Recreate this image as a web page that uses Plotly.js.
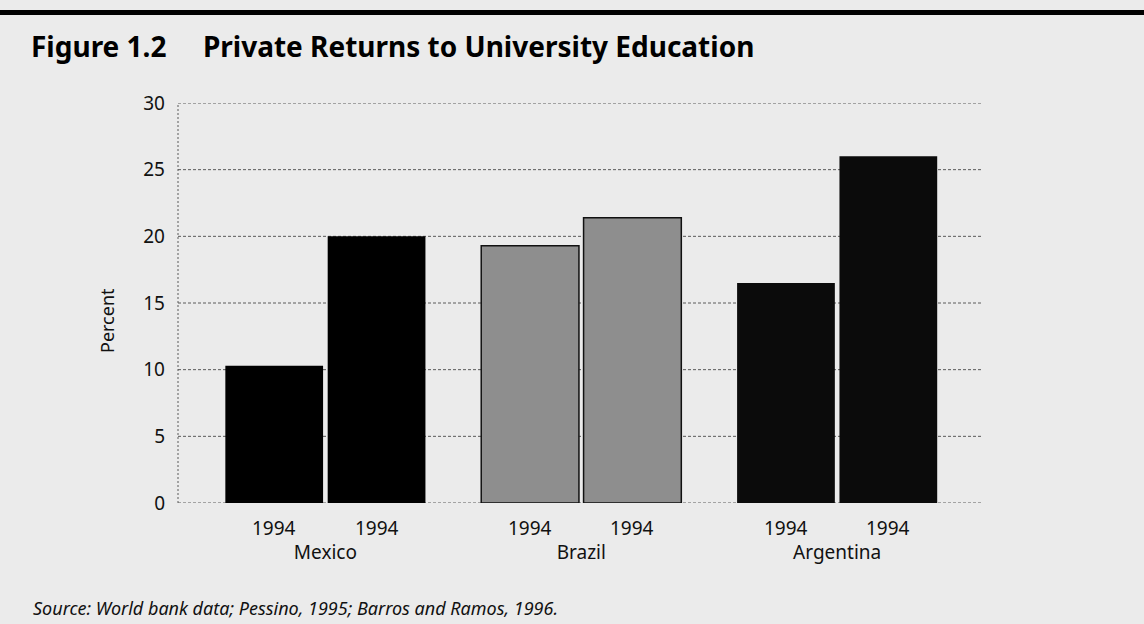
<!DOCTYPE html>
<html>
<head>
<meta charset="utf-8">
<script src="https://cdn.plot.ly/plotly-3.0.1.min.js"></script>
<style>
html,body{margin:0;padding:0;background:#ebebeb;}
#chart{width:1144px;height:624px;}
</style>
</head>
<body>
<div id="chart"></div>
<script>
const countries = ['Mexico', 'Brazil', 'Argentina'];
const yearsFirst = ['1994', '1994', '1994'];
const yearsSecond = ['1994', '1994', '1994'];
const returnsFirst = [10.3, 19.3, 16.5];
const returnsSecond = [20.0, 21.4, 26.0];
const barColors = ['#000000', '#8e8e8e', '#0b0b0b'];
const yTicks = [0, 5, 10, 15, 20, 25, 30];

const W = 1144, H = 624;
const M = {l: 178, r: 161, t: 103, b: 121};
const PW = W - M.l - M.r, PH = H - M.t - M.b;
const px = x => (x - M.l) / PW;
const py = y => (H - M.b - y) / PH;

const font = 'Noto Sans, DejaVu Sans, sans-serif';
const BARGAP = 0.2;
const slot = (1 - BARGAP) / 2;
const gridStyle = {color: '#5a5a5a', width: 1, dash: '3px,2px'};

const trace1 = {
  type: 'bar', x: countries, y: returnsFirst, name: 'First',
  marker: {color: barColors, line: {color: ['#000', '#111', '#000'], width: [0, 1.5, 0]}},
  hoverinfo: 'y'
};
const trace2 = {
  type: 'bar', x: countries, y: returnsSecond, name: 'Second',
  marker: {color: barColors, line: {color: ['#000', '#111', '#000'], width: [0, 1.5, 0]}},
  hoverinfo: 'y'
};

const annotations = [];
countries.forEach((c, i) => {
  annotations.push({xref: 'x', yref: 'paper', x: i - slot / 2, y: py(528), text: yearsFirst[i],
    showarrow: false, yanchor: 'middle', xanchor: 'center', font: {family: font, size: 19, color: '#111'}});
  annotations.push({xref: 'x', yref: 'paper', x: i + slot / 2, y: py(528), text: yearsSecond[i],
    showarrow: false, yanchor: 'middle', xanchor: 'center', font: {family: font, size: 19, color: '#111'}});
});
annotations.push({xref: 'paper', yref: 'paper', x: px(107), y: py(321), text: 'Percent', textangle: -90,
  showarrow: false, xanchor: 'center', yanchor: 'middle', font: {family: font, size: 18, color: '#111'}});
annotations.push({xref: 'paper', yref: 'paper', x: px(31), y: py(608), text: '<i>Source: World bank data; Pessino, 1995; Barros and Ramos, 1996.</i>',
  showarrow: false, xanchor: 'left', yanchor: 'middle', font: {family: font, size: 18, color: '#111'}});

const yGrid = yTicks.map(v => ({type: 'line', xref: 'paper', yref: 'y', x0: 0, x1: 1, y0: v, y1: v,
  line: gridStyle, layer: 'below'}));

const layout = {
  width: W, height: H,
  margin: M,
  paper_bgcolor: '#ebebeb', plot_bgcolor: 'rgba(0,0,0,0)',
  showlegend: false,
  barmode: 'group', bargap: BARGAP, bargroupgap: 0.045,
  title: {
    text: '<b>Figure 1.2&nbsp;&nbsp;&nbsp;&nbsp;&nbsp;Private Returns to University Education</b>',
    x: 31 / W, xref: 'container', xanchor: 'left',
    y: 1 - 47 / H, yref: 'container', yanchor: 'middle',
    font: {family: font, size: 28, color: '#000'}
  },
  xaxis: {
    type: 'category', range: [-0.576, 2.57],
    showgrid: false, zeroline: false, showline: false, ticks: '',
    tickfont: {family: font, size: 19, color: '#111'},
    ticklabelstandoff: 36
  },
  yaxis: {
    range: [0, 30], tickvals: yTicks, ticktext: yTicks.map(String),
    showgrid: false, zeroline: false, showline: false, ticks: '',
    tickfont: {family: font, size: 19, color: '#111'},
    ticklabelstandoff: 12
  },
  shapes: [
    {type: 'rect', xref: 'paper', yref: 'paper', x0: px(-5), x1: px(W + 5), y0: py(15), y1: py(10),
      fillcolor: '#000', line: {width: 0}, layer: 'above'},
    {type: 'line', xref: 'paper', yref: 'paper', x0: 0, x1: 0, y0: 0, y1: 1,
      line: {color: '#5a5a5a', width: 1, dash: '2px,2px'}, layer: 'below'}
  ].concat(yGrid),
  annotations: annotations
};

Plotly.newPlot('chart', [trace1, trace2], layout, {displayModeBar: false, staticPlot: true});
</script>
</body>
</html>
